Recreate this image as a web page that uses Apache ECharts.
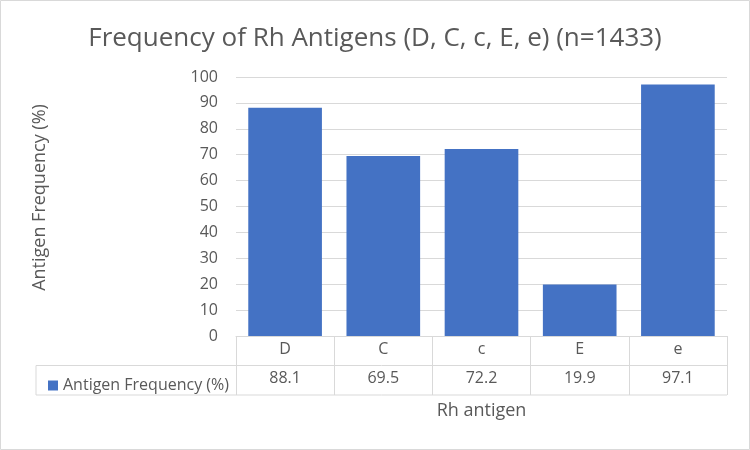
<!DOCTYPE html>
<html>
<head>
<meta charset="utf-8">
<script src="https://cdn.jsdelivr.net/npm/echarts@6/dist/echarts.min.js"></script>
</head>
<body style="margin:0">
<div id="container" style="width:750px;height:450px"></div>
<script type="text/javascript">
var categories = ['D', 'C', 'c', 'E', 'e'];
var values = [88.1, 69.5, 72.2, 19.9, 97.1];
var seriesName = 'Antigen Frequency (%)';

var FONT = 'Open Sans';
var TXT = '#595959';
var LINE = '#d9d9d9';
// plot area, in pixels
var gl = 236, gr = 727, gt = 77, gb = 336;
var rowH = 29.5, tableLeft = 36;

var chart = echarts.init(document.getElementById('container'));
var option = {
    animation: false,
    textStyle: { fontFamily: FONT },
    title: {
        text: 'Frequency of Rh Antigens (D, C, c, E, e) (n=1433)',
        left: 'center',
        top: 21,
        textStyle: { fontFamily: FONT, fontSize: 26, fontWeight: 'normal', color: TXT }
    },
    legend: {
        data: [seriesName],
        left: 43,
        top: gb + rowH + 7,
        icon: 'rect',
        itemWidth: 10,
        itemHeight: 10,
        itemGap: 5,
        textStyle: { fontFamily: FONT, fontSize: 16, color: TXT, padding: [0, 0, 0, 0] }
    },
    grid: { left: gl, right: 750 - gr, top: gt, bottom: 450 - gb, containLabel: false },
    xAxis: [{
        type: 'category',
        data: categories,
        name: 'Rh antigen',
        nameLocation: 'middle',
        nameGap: 66,
        nameTextStyle: { fontFamily: FONT, fontSize: 18, color: TXT },
        axisLine: { lineStyle: { color: LINE } },
        axisTick: { show: true, length: rowH * 2, lineStyle: { color: LINE } },
        axisLabel: { margin: 5, fontFamily: FONT, fontSize: 16, color: TXT }
    }, {
        type: 'category',
        position: 'bottom',
        offset: rowH,
        data: values.map(function (v) { return v.toFixed(1); }),
        axisLine: { show: false },
        axisTick: { show: false },
        axisLabel: { margin: 5, fontFamily: FONT, fontSize: 16, color: TXT }
    }],
    yAxis: {
        type: 'value',
        min: 0,
        max: 100,
        interval: 10,
        name: 'Antigen Frequency (%)',
        nameLocation: 'middle',
        nameGap: 187,
        nameTextStyle: { fontFamily: FONT, fontSize: 18, color: TXT, padding: [0, 0, 0, 18] },
        axisLine: { show: false },
        axisTick: { show: false },
        splitLine: { lineStyle: { color: LINE } },
        axisLabel: { margin: 18, fontFamily: FONT, fontSize: 16, color: TXT }
    },
    series: [{
        name: seriesName,
        type: 'bar',
        data: values,
        barCategoryGap: '25%',
        itemStyle: { color: '#4472C4' }
    }],
    graphic: [
        { type: 'rect', silent: true, shape: { x: 0.5, y: 0.5, width: 749, height: 449 },
          style: { fill: null, stroke: LINE, lineWidth: 1 } },
        { type: 'polyline', silent: true,
          shape: { points: [[gr, gb + rowH], [tableLeft, gb + rowH], [tableLeft, gb + rowH * 2], [gr, gb + rowH * 2]] },
          style: { fill: null, stroke: LINE, lineWidth: 1 } }
    ]
};
chart.setOption(option);
</script>
</body>
</html>
